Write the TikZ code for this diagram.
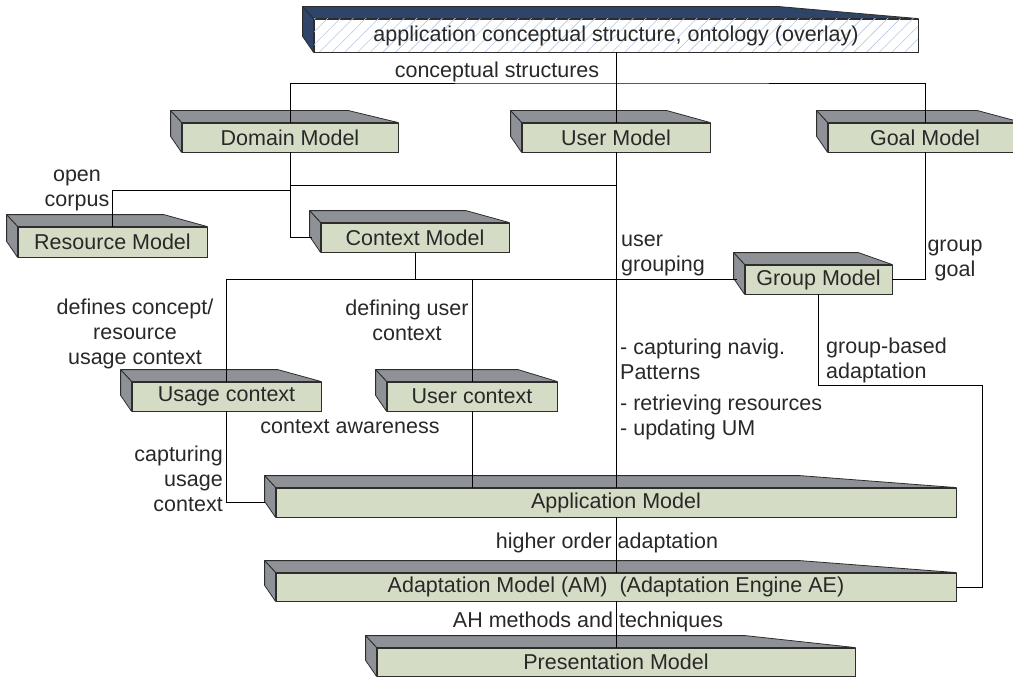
\documentclass[tikz,border=0pt]{standalone}
\usepackage{fontspec}
\setmainfont{Liberation Sans}
\usepackage{xcolor}
\usepackage{tikz}
\usetikzlibrary{calc}
\usetikzlibrary{patterns.meta}

\definecolor{frontc}{RGB}{213,220,197}
\definecolor{sidec}{RGB}{142,145,150}
\definecolor{navyc}{RGB}{46,68,104}
\definecolor{hatchc}{RGB}{180,202,232}
\definecolor{textc}{RGB}{40,40,40}
\definecolor{edgec}{RGB}{45,45,45}

\tikzset{
  model/.style={draw=edgec, line width=0.8pt, fill=frontc, inner sep=0pt,
    minimum height=29pt, text=textc,
    append after command={\pgfextra{%
      \begin{pgfinterruptpath}
      \filldraw[fill=#1, draw=edgec, line width=0.8pt, line join=round]
        ($(\tikzlastnode.north west)+(-11pt,12pt)$)
        -- ($(\tikzlastnode.north east)!0.23!(\tikzlastnode.north west)+(0pt,12pt)$)
        -- (\tikzlastnode.north east) -- (\tikzlastnode.north west) -- cycle;
      \filldraw[fill=#1, draw=edgec, line width=0.8pt, line join=round]
        ($(\tikzlastnode.north west)+(-11pt,12pt)$) -- (\tikzlastnode.north west)
        -- (\tikzlastnode.south west) -- ($(\tikzlastnode.south west)+(-11pt,16pt)$) -- cycle;
      \end{pgfinterruptpath}}}},
  model/.default=sidec,
  link/.style={draw=black, line width=0.9pt},
  lbl/.style={inner sep=0pt, text=textc, align=center}
}

\begin{document}
\begin{tikzpicture}[x=1pt, y=-1pt, font=\fontsize{21.5}{25}\selectfont]

\useasboundingbox (0,0) rectangle (1013,677);

% nodes

\node[model=navyc, fill=white, postaction={pattern={Lines[angle=45,distance=9pt,line width=0.6pt]}, pattern color=hatchc}, minimum width=604pt, minimum height=33pt] (acs) at (616,35.5) {application conceptual structure, ontology (overlay)};

\node[model, minimum width=216pt] (dm) at (290,137.5) {Domain Model};
\node[model, minimum width=188pt] (um) at (616,137.5) {User Model};
\node[model, minimum width=194pt] (gm) at (925,137.5) {Goal Model};
\node[model, minimum width=189pt, minimum height=30pt] (rm) at (112.5,242) {Resource Model};
\node[model, minimum width=188pt] (cm) at (415,237.5) {Context Model};
\node[model, minimum width=147pt] (gr) at (818.5,279.5) {Group Model};
\node[model, minimum width=189pt] (uc) at (226.5,396.5) {Usage context};
\node[model, minimum width=170pt] (ux) at (472,396.5) {User context};
\node[model, minimum width=680pt] (am) at (616,502.5) {Application Model};
\node[model, minimum width=680pt, minimum height=28pt] (adm) at (616,587) {Adaptation Model (AM)~~(Adaptation Engine AE)};
\node[model, minimum width=478pt, minimum height=28pt] (pm) at (616,662) {Presentation Model};

\coordinate (cs) at (616,83);
\coordinate (dmj) at (290,185);
\coordinate (rmj) at (290,190);
\coordinate (grj) at (982,385);

%% lines
\draw[link] (acs.south) -- (um.north);
\draw[link] (dm.north) |- (cs) -| (gm.north);
\draw[link] (um.south) -- (am.north);
\draw[link] (am.south) -- (adm.north);
\draw[link] (adm.south) -- (pm.north);

\draw[link, shorten >=9pt] (dm.south) |- (cm.west);
\draw[link] (dmj) -- (dmj -| um.south);
\draw[link] (rm.north) |- (rmj);

\draw[link] (cm.south) -- (cm.south |- gr.west);
\draw[link, shorten >=8pt] (uc.north) |- (gr.west);
\draw[link] (ux.north) -- (ux.north |- gr.west);
\draw[link] (gr.east) -| (gm.south);
\draw[link] (gr.south) |- (grj) |- (adm.east);

\draw[link, shorten >=11pt] (uc.south) |- (am.west);
\draw[link] (ux.south) -- (ux.south |- am.north);

%% labels
\node[lbl] (csl) at (497,72) {conceptual structures};
\node[lbl] (ocl) at (77,190) {open\\corpus};
\node[lbl, align=left, anchor=west] (ugl) at (621,255.5) {user\\grouping};
\node[lbl] (ggl) at (955,260) {group\\goal};
\node[lbl] (dcl) at (135,334) {defines concept/\\resource\\usage context};
\node[lbl] (dul) at (407,320.5) {defining user\\context};
\node[lbl, align=left, anchor=west] (cnl) at (620,389.5) {- capturing navig.\\Patterns\\[6pt]- retrieving resources\\- updating UM};
\node[lbl, align=left, anchor=west] (gbl) at (826,360) {group-based\\adaptation};
\node[lbl] (cal) at (350,427) {context awareness};
\node[lbl, align=right, anchor=east] (cul) at (223,479) {capturing\\usage\\context};
\node[lbl] (hol) at (607,543) {higher order adaptation};
\node[lbl] (ahl) at (588,622) {AH methods and techniques};

\end{tikzpicture}
\end{document}
